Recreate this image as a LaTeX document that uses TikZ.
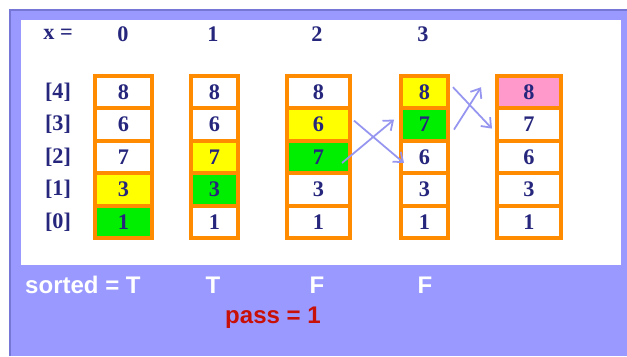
\documentclass[tikz,border=0pt]{standalone}
\usepackage{fontspec}
\setmainfont{Liberation Serif}
\setsansfont{Liberation Sans}
\usetikzlibrary{arrows.meta,calc}

\definecolor{frame}{RGB}{153,153,255}
\definecolor{frameedge}{RGB}{118,118,214}
\definecolor{box}{RGB}{255,140,0}
\definecolor{ink}{RGB}{38,38,125}
\definecolor{hiyel}{RGB}{255,255,0}
\definecolor{higrn}{RGB}{0,238,0}
\definecolor{hipink}{RGB}{255,153,204}
\definecolor{swap}{RGB}{150,150,240}
\definecolor{passred}{RGB}{200,16,8}

\tikzset{
  cell/.style={draw=box, line width=3.4pt, fill=white, minimum height=0.972cm,
    inner sep=0pt, text=ink, font=\fontsize{19}{22}\selectfont\bfseries},
  lbl/.style={text=ink, font=\fontsize{19}{22}\selectfont\bfseries},
  flag/.style={text=white, font=\sffamily\bfseries\fontsize{20.5}{24}\selectfont},
  swaparrow/.style={draw=swap, line width=1.5pt, -{Straight Barb[length=7pt,width=11pt]}}
}

\begin{document}
\begin{tikzpicture}[x=0.03cm, y=-0.03cm]
\useasboundingbox (0,0) rectangle (627,356);
% frame and white board
\fill[frame] (10,10) rectangle (627,356);
\draw[frameedge, line width=1.8pt] (10,356) -- (10,10) -- (627,10);
\fill[white] (21,20) rectangle (621,265);

% header
\node[lbl] (hx) at (58,34) {x =};
\node[lbl] (h0) at (123,34) {0};
\node[lbl] (h1) at (213,34) {1};
\node[lbl] (h2) at (317,34) {2};
\node[lbl] (h3) at (423,34) {3};

% index labels
\node[lbl] (r4) at (58,92.2) {[4]};
\node[lbl] (r3) at (58,124.6) {[3]};
\node[lbl] (r2) at (58,157) {[2]};
\node[lbl] (r1) at (58,189.4) {[1]};
\node[lbl] (r0) at (58,221.8) {[0]};

% array after x = 0
\node[cell, minimum width=1.71cm] (c0r4) at (123.5,92.2) {8};
\node[cell, minimum width=1.71cm] (c0r3) at (123.5,124.6) {6};
\node[cell, minimum width=1.71cm] (c0r2) at (123.5,157) {7};
\node[cell, minimum width=1.71cm, fill=hiyel] (c0r1) at (123.5,189.4) {3};
\node[cell, minimum width=1.71cm, fill=higrn] (c0r0) at (123.5,221.8) {1};

% array after x = 1
\node[cell, minimum width=1.41cm] (c1r4) at (214.5,92.2) {8};
\node[cell, minimum width=1.41cm] (c1r3) at (214.5,124.6) {6};
\node[cell, minimum width=1.41cm, fill=hiyel] (c1r2) at (214.5,157) {7};
\node[cell, minimum width=1.41cm, fill=higrn] (c1r1) at (214.5,189.4) {3};
\node[cell, minimum width=1.41cm] (c1r0) at (214.5,221.8) {1};

% array after x = 2
\node[cell, minimum width=1.89cm] (c2r4) at (318.5,92.2) {8};
\node[cell, minimum width=1.89cm, fill=hiyel] (c2r3) at (318.5,124.6) {6};
\node[cell, minimum width=1.89cm, fill=higrn] (c2r2) at (318.5,157) {7};
\node[cell, minimum width=1.89cm] (c2r1) at (318.5,189.4) {3};
\node[cell, minimum width=1.89cm] (c2r0) at (318.5,221.8) {1};

% array after x = 3
\node[cell, minimum width=1.41cm, fill=hiyel] (c3r4) at (424.5,92.2) {8};
\node[cell, minimum width=1.41cm, fill=higrn] (c3r3) at (424.5,124.6) {7};
\node[cell, minimum width=1.41cm] (c3r2) at (424.5,157) {6};
\node[cell, minimum width=1.41cm] (c3r1) at (424.5,189.4) {3};
\node[cell, minimum width=1.41cm] (c3r0) at (424.5,221.8) {1};

% end of the pass
\node[cell, minimum width=1.92cm, fill=hipink] (c4r4) at (529,92.2) {8};
\node[cell, minimum width=1.92cm] (c4r3) at (529,124.6) {7};
\node[cell, minimum width=1.92cm] (c4r2) at (529,157) {6};
\node[cell, minimum width=1.92cm] (c4r1) at (529,189.4) {3};
\node[cell, minimum width=1.92cm] (c4r0) at (529,221.8) {1};

% swaps
\draw[swaparrow] ($(c2r3.east)+(2,-4)$) -- ($(c3r2.west)+(5,6)$);
\draw[swaparrow] ($(c2r2.east)+(-10,6)$) -- ($(c3r3.west)+(-5,-5)$);
\draw[swaparrow] ($(c3r4.east)+(3,-5)$) -- ($(c4r3.west)+(-3,4)$);
\draw[swaparrow] ($(c3r3.east)+(4,5)$) -- ($(c4r4.west)+(-14,-5)$);

% flags
\node[flag, anchor=west, inner sep=0pt] (s0) at (25,285) {sorted = T};
\node[flag] (s1) at (213,285) {T};
\node[flag] (s2) at (317,285) {F};
\node[flag] (s3) at (425,285) {F};
\node[flag, text=passred, anchor=west, inner sep=0pt] (pass) at (225,318) {pass = 1};
\end{tikzpicture}
\end{document}
